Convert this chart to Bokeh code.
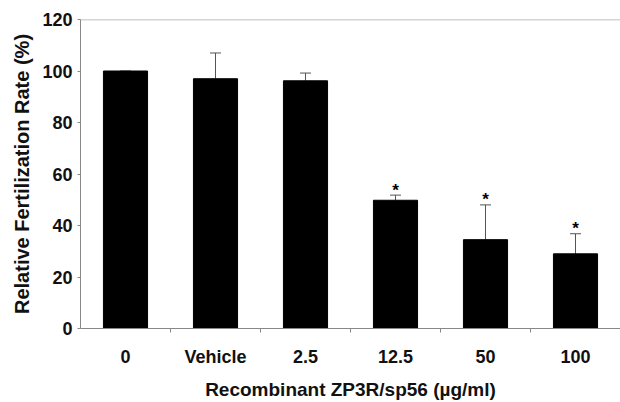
from bokeh.plotting import figure
from bokeh.models import ColumnDataSource, Range1d, FixedTicker, Whisker, TeeHead, Span
from bokeh.core.properties import value
from bokeh.embed import file_html
from bokeh.resources import INLINE

categories = ["0", "Vehicle", "2.5", "12.5", "50", "100"]
rates = [100, 97, 96.2, 49.8, 34.5, 29]
err_upper = [100, 107, 99.2, 51.8, 48, 36.8]
signif = ["", "", "", "*", "*", "*"]

xpos = [i + 0.5 for i in range(len(categories))]
src = ColumnDataSource(dict(x=xpos, top=rates, upper=err_upper, sig=signif))

FONT = "Liberation Sans"

p = figure(width=620, height=402, output_backend="svg", toolbar_location=None,
           x_range=Range1d(0, 6), y_range=Range1d(0, 120),
           min_border_left=80, min_border_right=0, min_border_top=19, min_border_bottom=72)
p.outline_line_color = None
p.xgrid.grid_line_color = None
p.ygrid.grid_line_color = None
p.background_fill_color = "white"

p.vbar(x="x", top="top", width=0.49, bottom=0, source=src, fill_color="black", line_color="black")

w = Whisker(base="x", lower="top", upper="upper", source=src, line_color="#555555", line_width=1,
            lower_head=None, upper_head=TeeHead(size=11, line_color="#555555", line_width=1))
p.add_layout(w)

p.text(x="x", y="upper", text="sig", source=src, text_align="center", text_baseline="alphabetic",
       y_offset=-5, text_font=value(FONT), text_font_style="bold", text_font_size="17px", text_color="black")

p.add_layout(Span(location=120, dimension="width", line_color="#aaaaaa", line_width=1.5))

xa = p.xaxis[0]
xa.ticker = FixedTicker(ticks=xpos, minor_ticks=[1, 2, 3, 4, 5])
xa.major_label_overrides = {x: c for x, c in zip(xpos, categories)}
xa.major_tick_line_color = None
xa.major_tick_out = 0
xa.major_tick_in = 0
xa.minor_tick_out = 4
xa.minor_tick_in = 0
xa.minor_tick_line_color = "#888888"
xa.axis_line_color = "#888888"
xa.major_label_standoff = 14
xa.major_label_text_font = FONT
xa.major_label_text_font_style = "bold"
xa.major_label_text_font_size = "18px"
xa.major_label_text_color = "#111111"
xa.axis_label = "Recombinant ZP3R/sp56 (µg/ml)"
xa.axis_label_text_font = FONT
xa.axis_label_text_font_style = "bold"
xa.axis_label_text_font_size = "19px"
xa.axis_label_text_color = "#111111"
xa.axis_label_standoff = 9

ya = p.yaxis[0]
ya.ticker = FixedTicker(ticks=[0, 20, 40, 60, 80, 100, 120])
ya.minor_tick_line_color = None
ya.major_tick_out = 3
ya.major_tick_in = 0
ya.major_tick_line_color = "#888888"
ya.axis_line_color = "#888888"
ya.major_label_standoff = 5
ya.major_label_text_font = FONT
ya.major_label_text_font_style = "bold"
ya.major_label_text_font_size = "18px"
ya.major_label_text_color = "#111111"
ya.axis_label = "Relative Fertilization Rate (%)"
ya.axis_label_text_font = FONT
ya.axis_label_text_font_style = "bold"
ya.axis_label_text_font_size = "20px"
ya.axis_label_text_color = "#111111"
ya.axis_label_standoff = 6

open("out.html", "w").write(file_html(p, INLINE))
